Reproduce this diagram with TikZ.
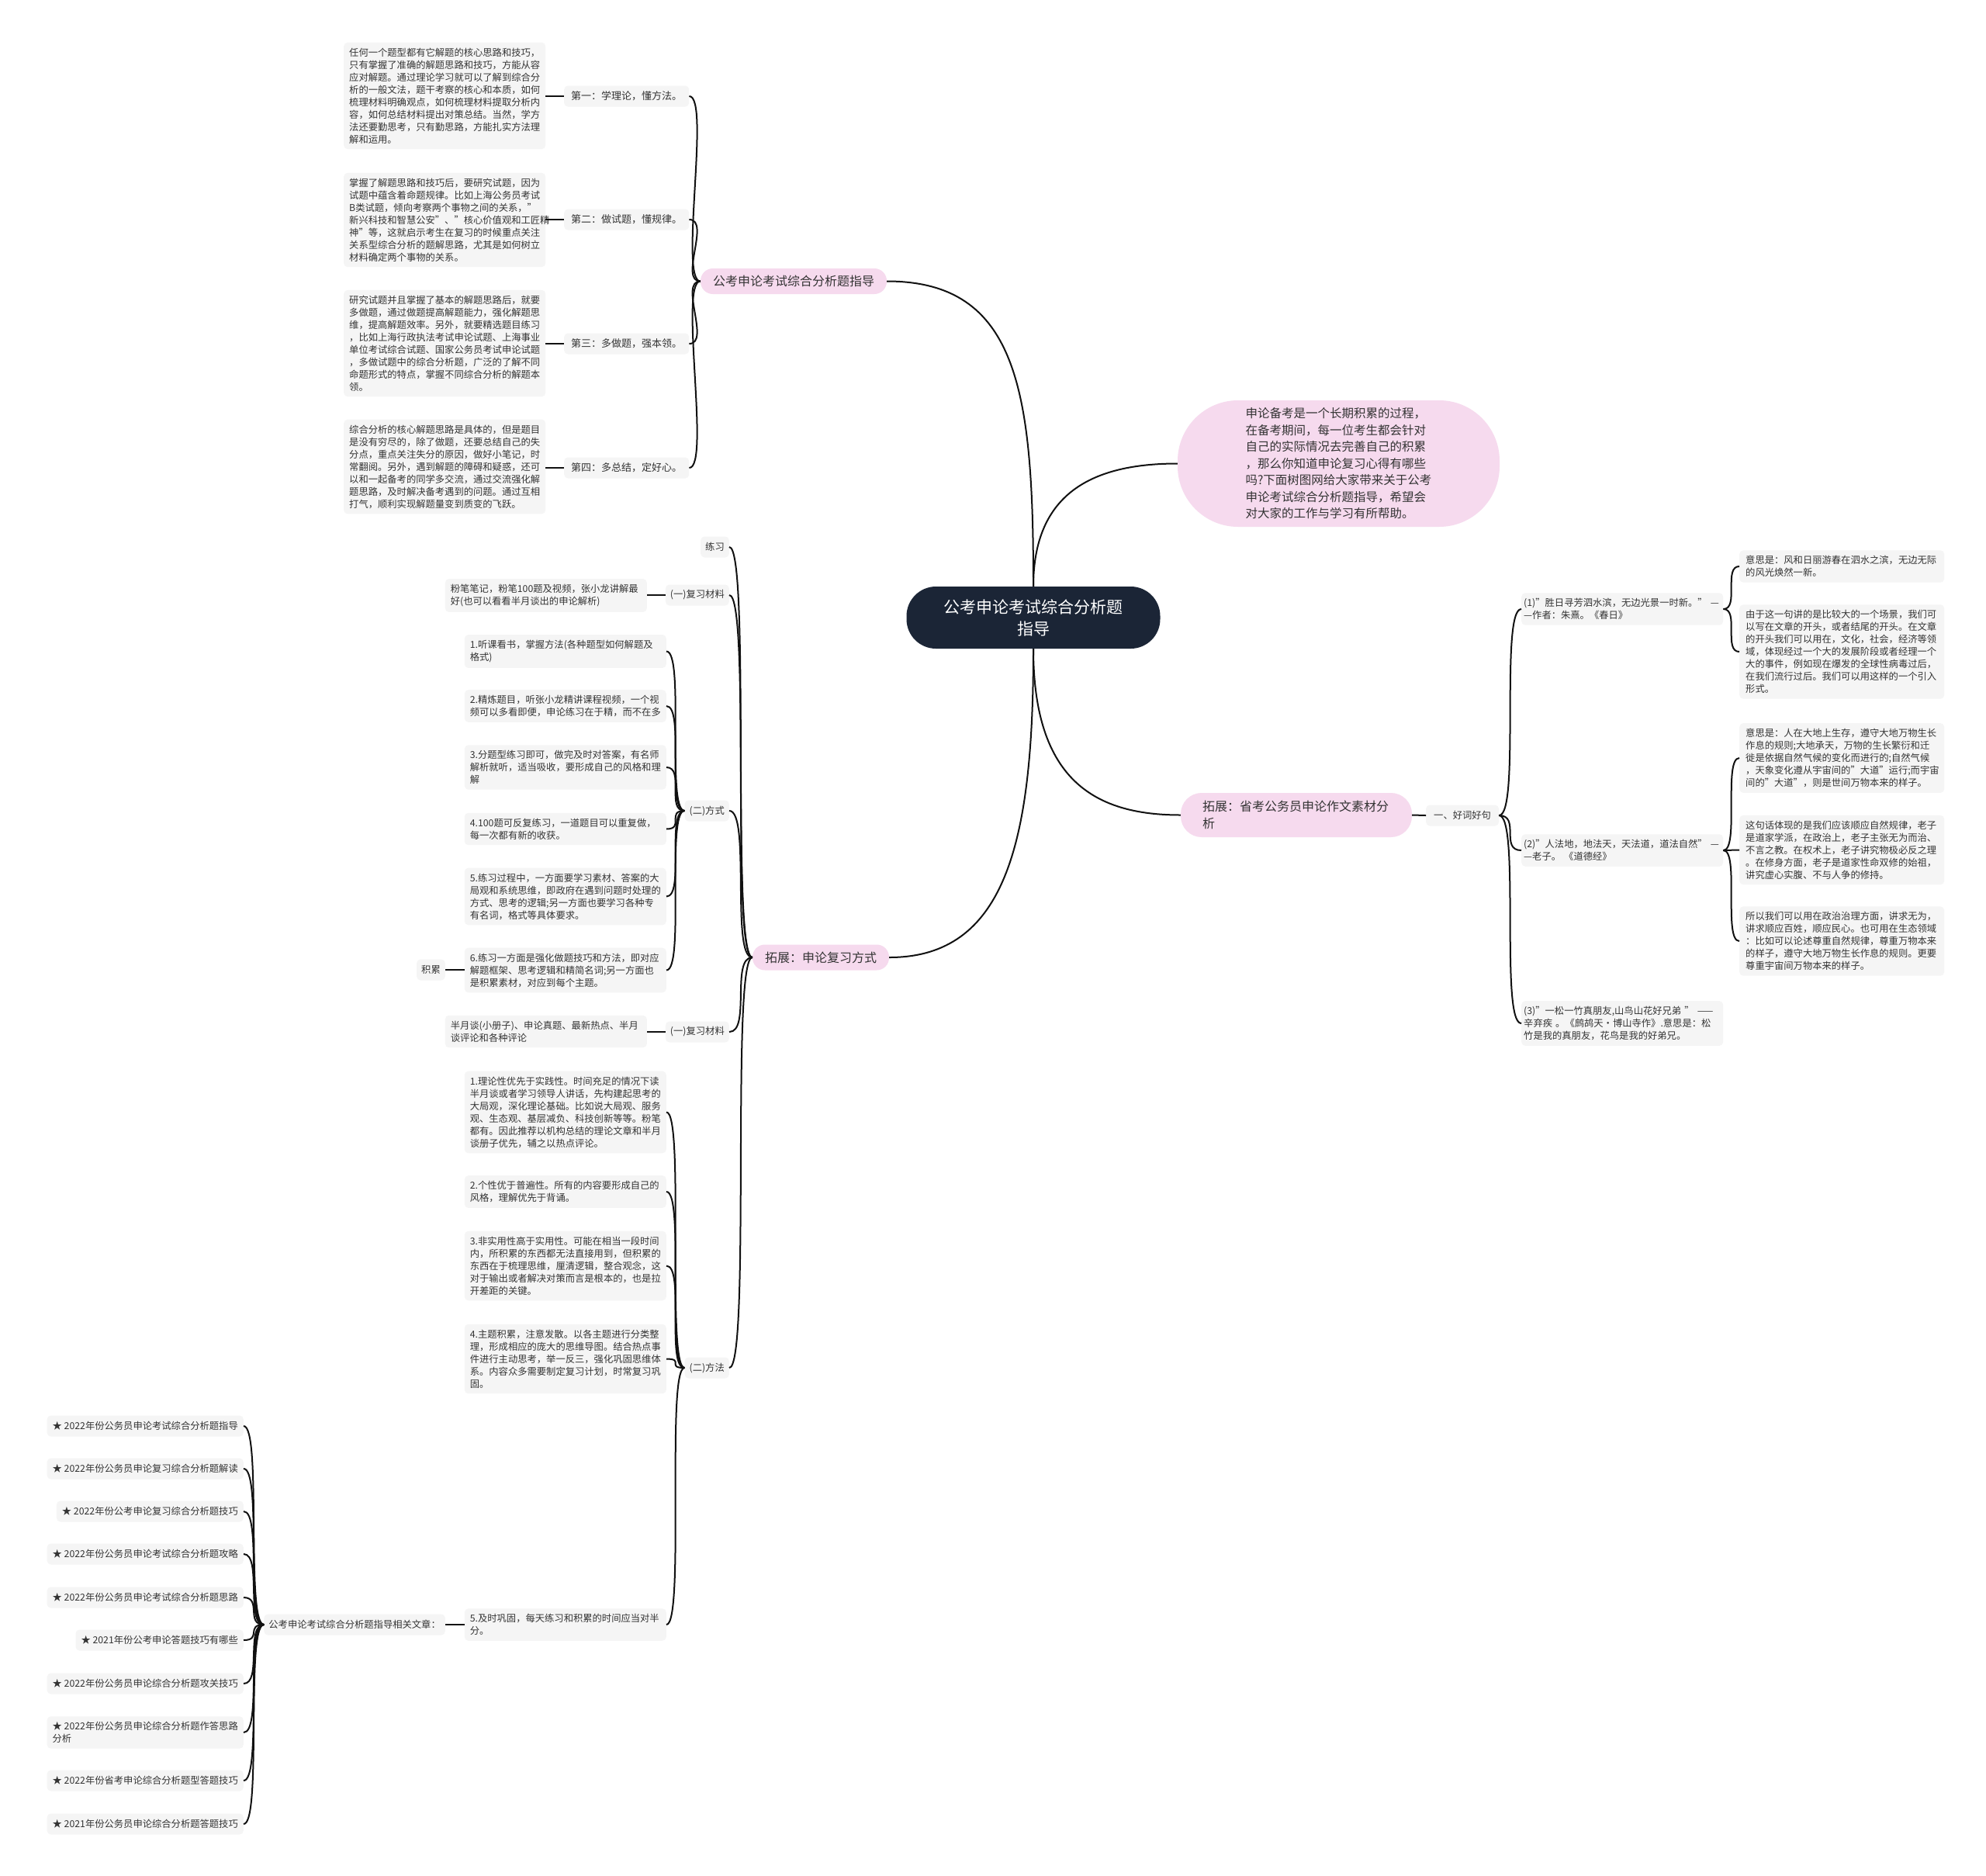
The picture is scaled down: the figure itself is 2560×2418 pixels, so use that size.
\documentclass[tikz,border=0pt]{standalone}
\usepackage{fontspec}
\setmainfont{Noto Sans CJK SC}
\definecolor{boxg}{HTML}{F5F5F5}
\definecolor{pinkc}{HTML}{F6DAEE}
\definecolor{darkc}{HTML}{1B2536}
\definecolor{txtc}{HTML}{333333}
\definecolor{linec}{HTML}{111111}
\begin{document}
\begin{tikzpicture}[x=1pt,y=-1pt,
  every node/.style={text=txtc},
  para/.style={fill=boxg, rounded corners=5pt, align=left, text width=246pt, inner xsep=7pt, inner ysep=7pt, font=\fontsize{12.3}{16}\selectfont},
  rpara/.style={para, text width=248pt, inner xsep=8pt},
  qpara/.style={para, text width=254pt, inner xsep=3pt},
  lbl/.style={fill=boxg, rounded corners=5pt, inner xsep=6pt, inner ysep=0pt, minimum height=27pt, font=\fontsize{12.3}{16}\selectfont},
  alabel/.style={lbl, inner xsep=9pt, font=\fontsize{13}{16}\selectfont},
  staritem/.style={lbl, inner xsep=7pt, anchor=east},
  pinkn/.style={fill=pinkc, rounded corners=16pt, minimum height=33pt, inner xsep=16pt, font=\fontsize{16}{22}\selectfont},
  conn/.style={draw=linec, line width=2pt},
]
\useasboundingbox (0,0) rectangle (2560,2418);
\fill[white] (0,0) rectangle (2560,2418);

% ---------- root and main branches ----------
\node[fill=darkc, rounded corners=38pt, minimum width=327pt, minimum height=80pt, text=white, align=center, font=\fontsize{21}{28}\selectfont] (root) at (1332,796) {公考申论考试综合分析题\\指导};

\node[fill=pinkc, rounded corners=78pt, minimum width=415pt, minimum height=163pt, align=left, font=\fontsize{15.5}{21.5}\selectfont] (intro) at (1725.5,597.5) {申论备考是一个长期积累的过程，\\在备考期间，每一位考生都会针对\\自己的实际情况去完善自己的积累\\，那么你知道申论复习心得有哪些\\吗?下面树图网给大家带来关于公考\\申论考试综合分析题指导，希望会\\对大家的工作与学习有所帮助。};

\node[pinkn] (nA) at (1023,362.5) {公考申论考试综合分析题指导};
\node[pinkn] (nB) at (1058,1234) {拓展：申论复习方式};
\node[pinkn, rounded corners=27pt, minimum height=57pt, align=left, text width=242pt, inner xsep=28pt] (nC) at (1671,1050.5) {拓展：省考公务员申论作文素材分\\析};

\draw[conn] (root.north) .. controls +(0,-250) and +(170,0) .. (nA.east);
\draw[conn] (root.north) .. controls +(0,-120) and +(-110,0) .. (intro.west);
\draw[conn] (root.south) .. controls +(0,250) and +(150,0) .. (nB.east);
\draw[conn] (root.south) .. controls +(0,170) and +(-110,0) .. (nC.west);

% ---------- group A ----------
\node[alabel, anchor=west] (a1) at (727,124) {第一：学理论，懂方法。};
\node[alabel, anchor=west] (a2) at (727,283) {第二：做试题，懂规律。};
\node[alabel, anchor=west] (a3) at (727,443) {第三：多做题，强本领。};
\node[alabel, anchor=west] (a4) at (727,603) {第四：多总结，定好心。};

\node[para, anchor=west] (p1) at (443,123.5) {任何一个题型都有它解题的核心思路和技巧，\\只有掌握了准确的解题思路和技巧，方能从容\\应对解题。通过理论学习就可以了解到综合分\\析的一般文法，题干考察的核心和本质，如何\\梳理材料明确观点，如何梳理材料提取分析内\\容，如何总结材料提出对策总结。当然，学方\\法还要勤思考，只有勤思路，方能扎实方法理\\解和运用。};
\node[para, anchor=west] (p2) at (443,283.5) {掌握了解题思路和技巧后，要研究试题，因为\\试题中蕴含着命题规律。比如上海公务员考试\\B类试题，倾向考察两个事物之间的关系，"\\新兴科技和智慧公安"、"核心价值观和工匠精\\神"等，这就启示考生在复习的时候重点关注\\关系型综合分析的题解思路，尤其是如何树立\\材料确定两个事物的关系。};
\node[para, anchor=west] (p3) at (443,442.5) {研究试题并且掌握了基本的解题思路后，就要\\多做题，通过做题提高解题能力，强化解题思\\维，提高解题效率。另外，就要精选题目练习\\，比如上海行政执法考试申论试题、上海事业\\单位考试综合试题、国家公务员考试申论试题\\，多做试题中的综合分析题，广泛的了解不同\\命题形式的特点，掌握不同综合分析的解题本\\领。};
\node[para, anchor=west] (p4) at (443,601.5) {综合分析的核心解题思路是具体的，但是题目\\是没有穷尽的，除了做题，还要总结自己的失\\分点，重点关注失分的原因，做好小笔记，时\\常翻阅。另外，遇到解题的障碍和疑惑，还可\\以和一起备考的同学多交流，通过交流强化解\\题思路，及时解决备考遇到的问题。通过互相\\打气，顺利实现解题量变到质变的飞跃。};

\foreach \c in {a1,a2,a3,a4} \draw[conn] (\c.east) .. controls +(28,0) and +(-28,0) .. (nA.west);
\draw[conn] (p1.east |- a1.west) -- (a1.west);
\draw[conn] (p2.east |- a2.west) -- (a2.west);
\draw[conn] (p3.east |- a3.west) -- (a3.west);
\draw[conn] (p4.east |- a4.west) -- (a4.west);

% ---------- group B ----------
\node[lbl, anchor=east] (lx) at (940,705) {练习};
\node[lbl, anchor=east] (fx1) at (940,767) {(一)复习材料};
\node[lbl, anchor=east] (fs) at (940,1045) {(二)方式};
\node[lbl, anchor=east] (fx2) at (940,1330) {(一)复习材料};
\node[lbl, anchor=east] (ff) at (940,1763) {(二)方法};
\foreach \c in {lx,fx1,fs,fx2,ff} \draw[conn] (\c.east) .. controls +(28,0) and +(-28,0) .. (nB.west);

\node[para, anchor=east] (pen1) at (834,767.5) {粉笔笔记，粉笔100题及视频，张小龙讲解最\\好(也可以看看半月谈出的申论解析)};
\node[para, anchor=east] (pen2) at (834,1329.5) {半月谈(小册子)、申论真题、最新热点、半月\\谈评论和各种评论};
\draw[conn] (fx1.west) -- (pen1.east |- fx1.west);
\draw[conn] (fx2.west) -- (pen2.east |- fx2.west);

\node[para, anchor=east] (m1) at (859,839.5) {1.听课看书，掌握方法(各种题型如何解题及\\格式)};
\node[para, anchor=east] (m2) at (859,910) {2.精炼题目，听张小龙精讲课程视频，一个视\\频可以多看即便，申论练习在于精，而不在多};
\node[para, anchor=east] (m3) at (859,989) {3.分题型练习即可，做完及时对答案，有名师\\解析就听，适当吸收，要形成自己的风格和理\\解};
\node[para, anchor=east] (m4) at (859,1068.5) {4.100题可反复练习，一道题目可以重复做，\\每一次都有新的收获。};
\node[para, anchor=east] (m5) at (859,1155.5) {5.练习过程中，一方面要学习素材、答案的大\\局观和系统思维，即政府在遇到问题时处理的\\方式、思考的逻辑;另一方面也要学习各种专\\有名词，格式等具体要求。};
\node[para, anchor=east] (m6) at (859,1250.5) {6.练习一方面是强化做题技巧和方法，即对应\\解题框架、思考逻辑和精简名词;另一方面也\\是积累素材，对应到每个主题。};
\foreach \c in {m1,m2,m3,m4,m5,m6} \draw[conn] (\c.east) .. controls +(24,0) and +(-24,0) .. (fs.west);
\node[lbl, anchor=east] (jl) at (574,1250) {积累};
\draw[conn] (jl.east) -- (m6.west |- jl.east);

\node[para, anchor=east] (f1) at (859,1433.5) {1.理论性优先于实践性。时间充足的情况下读\\半月谈或者学习领导人讲话，先构建起思考的\\大局观，深化理论基础。比如说大局观、服务\\观、生态观、基层减负、科技创新等等。粉笔\\都有。因此推荐以机构总结的理论文章和半月\\谈册子优先，辅之以热点评论。};
\node[para, anchor=east] (f2) at (859,1536) {2.个性优于普遍性。所有的内容要形成自己的\\风格，理解优先于背诵。};
\node[para, anchor=east] (f3) at (859,1631.5) {3.非实用性高于实用性。可能在相当一段时间\\内，所积累的东西都无法直接用到，但积累的\\东西在于梳理思维，厘清逻辑，整合观念，这\\对于输出或者解决对策而言是根本的，也是拉\\开差距的关键。};
\node[para, anchor=east] (f4) at (859,1751.5) {4.主题积累，注意发散。以各主题进行分类整\\理，形成相应的庞大的思维导图。结合热点事\\件进行主动思考，举一反三，强化巩固思维体\\系。内容众多需要制定复习计划，时常复习巩\\固。};
\node[para, anchor=east] (f5) at (859,2094) {5.及时巩固，每天练习和积累的时间应当对半\\分。};
\foreach \c in {f1,f2,f3,f4,f5} \draw[conn] (\c.east) .. controls +(24,0) and +(-24,0) .. (ff.west);

\node[lbl, anchor=east] (rel) at (574,2094) {公考申论考试综合分析题指导相关文章：};
\draw[conn] (rel.east) -- (f5.west |- rel.east);

\node[staritem] (s1) at (314,1838) {★ 2022年份公务员申论考试综合分析题指导};
\node[staritem] (s2) at (314,1893) {★ 2022年份公务员申论复习综合分析题解读};
\node[staritem] (s3) at (314,1948) {★ 2022年份公考申论复习综合分析题技巧};
\node[staritem] (s4) at (314,2003) {★ 2022年份公务员申论考试综合分析题攻略};
\node[staritem] (s5) at (314,2059) {★ 2022年份公务员申论考试综合分析题思路};
\node[staritem] (s6) at (314,2114) {★ 2021年份公考申论答题技巧有哪些};
\node[staritem] (s7) at (314,2170) {★ 2022年份公务员申论综合分析题攻关技巧};
\node[staritem, align=left, inner ysep=7pt, minimum height=0pt] (s8) at (314,2233) {★ 2022年份公务员申论综合分析题作答思路\\分析};
\node[staritem] (s9) at (314,2295) {★ 2022年份省考申论综合分析题型答题技巧};
\node[staritem] (s10) at (314,2351) {★ 2021年份公务员申论综合分析题答题技巧};
\foreach \c in {s1,s2,s3,s4,s5,s6,s7,s8,s9,s10} \draw[conn] (\c.east) .. controls +(24,0) and +(-24,0) .. (rel.west);

% ---------- group C ----------
\node[lbl, anchor=west, inner xsep=10pt] (hc) at (1838,1051) {一、好词好句};
\draw[conn] (nC.east) -- (hc.west);

\node[qpara, anchor=west] (q1) at (1961,785) {(1)"胜日寻芳泗水滨，无边光景一时新。"~—\\—作者：朱熹。《春日》};
\node[qpara, anchor=west] (q2) at (1961,1096) {(2)"人法地，地法天，天法道，道法自然"~—\\—老子。~《道德经》};
\node[qpara, anchor=west] (q3) at (1961,1319) {(3)"一松一竹真朋友,山鸟山花好兄弟~"~——\\辛弃疾~。《鹧鸪天·博山寺作》.意思是：松\\竹是我的真朋友，花鸟是我的好弟兄。};
\foreach \c in {q1,q2,q3} \draw[conn] (hc.east) .. controls +(28,0) and +(-28,0) .. (\c.west);

\node[rpara, anchor=west] (r1) at (2242,730) {意思是：风和日丽游春在泗水之滨，无边无际\\的风光焕然一新。};
\node[rpara, anchor=west] (r2) at (2242,840) {由于这一句讲的是比较大的一个场景，我们可\\以写在文章的开头，或者结尾的开头。在文章\\的开头我们可以用在，文化，社会，经济等领\\域，体现经过一个大的发展阶段或者经理一个\\大的事件，例如现在爆发的全球性病毒过后，\\在我们流行过后。我们可以用这样的一个引入\\形式。};
\node[rpara, anchor=west] (r3) at (2242,977) {意思是：人在大地上生存，遵守大地万物生长\\作息的规则;大地承天，万物的生长繁衍和迁\\徙是依据自然气候的变化而进行的;自然气候\\，天象变化遵从宇宙间的"大道"运行;而宇宙\\间的"大道"，则是世间万物本来的样子。};
\node[rpara, anchor=west] (r4) at (2242,1095.5) {这句话体现的是我们应该顺应自然规律，老子\\是道家学派，在政治上，老子主张无为而治、\\不言之教。在权术上，老子讲究物极必反之理\\。在修身方面，老子是道家性命双修的始祖，\\讲究虚心实腹、不与人争的修持。};
\node[rpara, anchor=west] (r5) at (2242,1213) {所以我们可以用在政治治理方面，讲求无为，\\讲求顺应百姓，顺应民心。也可用在生态领域\\：比如可以论述尊重自然规律，尊重万物本来\\的样子，遵守大地万物生长作息的规则。更要\\尊重宇宙间万物本来的样子。};
\foreach \c in {r1,r2} \draw[conn] (q1.east) .. controls +(21,0) and +(-21,0) .. (\c.west);
\foreach \c in {r3,r4,r5} \draw[conn] (q2.east) .. controls +(21,0) and +(-21,0) .. (\c.west);
\end{tikzpicture}
\end{document}
